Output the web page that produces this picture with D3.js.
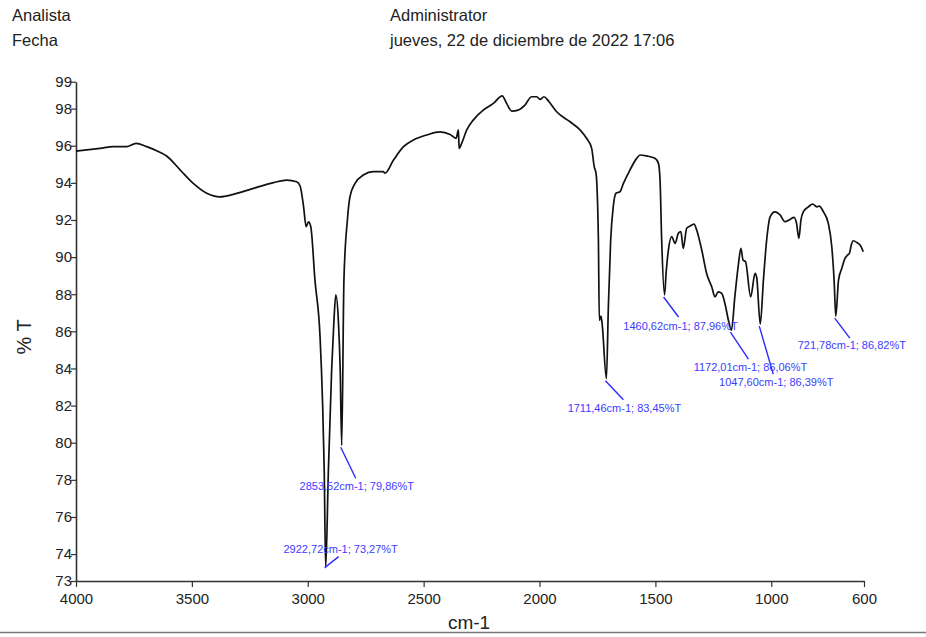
<!DOCTYPE html>
<html>
<head>
<meta charset="utf-8">
<script src="https://cdn.jsdelivr.net/npm/d3@7"></script>
<style>
  body { margin: 0; background: #fff; }
  svg { display: block; font-family: "Liberation Sans", Arial, sans-serif; }
</style>
</head>
<body>
<div id="chart"></div>
<script>
// header texts
var headerLabels = ["Analista", "Fecha"];
var headerValues = ["Administrator", "jueves, 22 de diciembre de 2022 17:06"];

// spectrum, wavenumber (cm-1) and transmittance (%T)
var wavenumbers = [4000, 3896, 3839, 3781, 3741, 3695, 3652, 3609, 3550, 3494, 3436, 3379, 3321, 3235, 3148, 3091, 3048, 3033, 3018, 3007, 2997, 2987, 2969, 2947, 2936, 2929, 2922.72, 2911, 2897, 2887, 2879, 2868, 2860, 2853.52, 2844, 2829, 2818, 2796, 2760, 2717, 2674, 2667, 2630, 2587, 2544, 2487, 2429, 2386, 2360, 2350, 2347, 2336, 2314, 2286, 2243, 2199, 2161, 2142, 2120, 2092, 2063, 2034, 2012, 1998, 1981, 1962, 1926, 1868, 1825, 1797, 1775, 1764, 1756, 1746, 1742, 1735, 1730, 1711.46, 1703, 1693, 1682, 1670, 1653, 1638, 1610, 1581, 1566, 1538, 1502, 1487, 1480, 1473, 1460.62, 1454, 1444, 1430, 1415, 1401, 1390, 1380, 1365, 1351, 1333, 1322, 1300, 1279, 1257, 1243, 1229, 1214, 1200, 1185, 1172.01, 1157, 1142, 1131, 1122, 1111, 1089, 1070, 1063, 1047.60, 1034, 1020, 1005, 984, 962, 941, 919, 902, 891, 881, 872, 862, 840, 821, 804, 793, 775, 754, 739, 729, 721.78, 710, 696, 682, 671, 663, 655, 646, 629, 617, 603];
var transmittance = [95.71, 95.86, 95.95, 95.95, 96.13, 95.95, 95.73, 95.45, 94.69, 93.97, 93.44, 93.25, 93.38, 93.70, 94.01, 94.15, 94.06, 93.83, 92.71, 91.64, 91.90, 91.64, 88.76, 85.71, 82.12, 78.53, 73.27, 78.50, 83.90, 86.60, 87.96, 86.60, 83.90, 79.86, 88.76, 92.00, 93.25, 93.97, 94.42, 94.60, 94.60, 94.52, 95.23, 95.95, 96.31, 96.58, 96.75, 96.61, 96.40, 96.85, 95.86, 96.13, 96.85, 97.38, 97.92, 98.28, 98.69, 98.28, 97.87, 97.92, 98.19, 98.64, 98.64, 98.50, 98.64, 98.42, 97.83, 97.29, 96.85, 96.40, 95.86, 94.87, 94.50, 90.92, 86.60, 86.82, 86.43, 83.45, 87.33, 90.92, 92.71, 93.44, 93.52, 93.97, 94.69, 95.32, 95.50, 95.45, 95.32, 95.05, 94.15, 90.92, 87.96, 89.12, 90.38, 91.10, 90.74, 91.28, 91.37, 90.47, 91.55, 91.67, 91.78, 91.46, 90.38, 89.12, 88.40, 87.86, 88.13, 88.04, 87.50, 86.60, 86.06, 87.90, 89.60, 90.47, 89.84, 89.75, 87.86, 89.12, 88.90, 86.39, 88.76, 90.92, 92.17, 92.44, 92.27, 91.91, 92.03, 92.14, 91.82, 91.01, 92.00, 92.44, 92.71, 92.86, 92.71, 92.75, 92.44, 91.82, 90.56, 88.76, 86.82, 88.76, 89.39, 89.93, 90.11, 90.20, 90.65, 90.88, 90.77, 90.65, 90.29];

// labelled peaks
var peakWavenumbers = [2922.72, 2853.52, 1711.46, 1460.62, 1172.01, 1047.60, 721.78];
var peakValues = [73.27, 79.86, 83.45, 87.96, 86.06, 86.39, 86.82];

// axis ticks
var xTickValues = [4000, 3500, 3000, 2500, 2000, 1500, 1000, 600];
var yDomain = [72.55, 99.45];
var yTickValues = [72.55, 74, 76, 78, 80, 82, 84, 86, 88, 90, 92, 94, 96, 98, 99.45];
var yTickLabels = ["73", "74", "76", "78", "80", "82", "84", "86", "88", "90", "92", "94", "96", "98", "99"];

// where each peak label sits relative to its peak (layout only)
var labelOffsets = [
    {dx: 13, dy: -11, tx: 15, ty: -15},
    {dx: 14, dy: 33, tx: 15, ty: 45},
    {dx: 17, dy: 21, tx: 18, ty: 33},
    {dx: 14, dy: 22, tx: 16, ty: 35},
    {dx: 17, dy: 29, tx: 19, ty: 41},
    {dx: 13, dy: 50, tx: 16, ty: 62},
    {dx: 14, dy: 22, tx: 16, ty: 33}
];

var fmt = function(v) { return v.toFixed(2).replace(".", ","); };

var W = 926, H = 637;
var plotLeft = 76, plotRight = 864, plotTop = 81.7, plotBottom = 581;

var svg = d3.select("#chart")
    .append("svg")
    .attr("width", W)
    .attr("height", H);

svg.append("rect").attr("width", W).attr("height", H).attr("fill", "#fff");

// header
svg.selectAll(".hlabel")
    .data(headerLabels)
    .enter().append("text")
    .attr("x", 12)
    .attr("y", function(d, i) { return 21 + i * 25; })
    .attr("fill", "#222")
    .style("font-size", "16.5px")
    .text(function(d) { return d; });

svg.selectAll(".hvalue")
    .data(headerValues)
    .enter().append("text")
    .attr("x", 390)
    .attr("y", function(d, i) { return 21 + i * 25; })
    .attr("fill", "#222")
    .style("font-size", "16.5px")
    .text(function(d) { return d; });

var x = d3.scaleLinear()
    .domain([4000, 600])
    .range([plotLeft, plotRight]);

var y = d3.scaleLinear()
    .domain(yDomain)
    .range([plotBottom, plotTop]);

var xAxis = svg.append("g")
    .attr("transform", "translate(0," + plotBottom + ")")
    .call(d3.axisBottom(x).tickValues(xTickValues).tickSize(6).tickSizeOuter(0).tickFormat(d3.format("d")));

var yAxis = svg.append("g")
    .attr("transform", "translate(" + plotLeft + ",0)")
    .call(d3.axisLeft(y).tickValues(yTickValues).tickSize(5).tickSizeOuter(0)
        .tickFormat(function(d, i) { return yTickLabels[i]; }));

svg.selectAll("g path.domain")
    .attr("stroke", "#333")
    .attr("stroke-width", 1.6);
svg.selectAll("g g.tick line")
    .attr("stroke", "#333")
    .attr("stroke-width", 1.2);
svg.selectAll("g g.tick text")
    .style("font-size", "15px")
    .style("font-family", "'Liberation Sans', Arial, sans-serif")
    .attr("fill", "#222");
xAxis.selectAll("g.tick text").attr("dy", "0.85em").attr("y", 10);
yAxis.selectAll("g.tick text").attr("x", -4);

// axis titles
svg.append("text")
    .attr("x", 469)
    .attr("y", 629)
    .attr("text-anchor", "middle")
    .attr("fill", "#222")
    .style("font-size", "19px")
    .text("cm-1");

svg.append("text")
    .attr("transform", "translate(31,337) rotate(-90)")
    .attr("text-anchor", "middle")
    .attr("fill", "#222")
    .style("font-size", "20px")
    .text("% T");

// bottom rule
svg.append("line")
    .attr("x1", 0).attr("x2", W)
    .attr("y1", 632.5).attr("y2", 632.5)
    .attr("stroke", "#777")
    .attr("stroke-width", 1.5);

// spectrum
var points = wavenumbers.map(function(w, i) { return [w, transmittance[i]]; });

var line = d3.line()
    .x(function(d) { return x(d[0]); })
    .y(function(d) { return y(d[1]); })
    .curve(d3.curveMonotoneX);

svg.append("path")
    .datum(points)
    .attr("d", line)
    .attr("fill", "none")
    .attr("stroke", "#111")
    .attr("stroke-width", 1.7)
    .attr("stroke-linejoin", "round");

// peak annotations
var peaks = peakWavenumbers.map(function(w, i) {
    return {w: w, v: peakValues[i], off: labelOffsets[i]};
});

svg.selectAll(".pline")
    .data(peaks)
    .enter().append("line")
    .attr("x1", function(d) { return x(d.w) - 1; })
    .attr("y1", function(d) { return y(d.v) + (d.off.dy > 0 ? 2 : 0); })
    .attr("x2", function(d) { return x(d.w) + d.off.dx; })
    .attr("y2", function(d) { return y(d.v) + d.off.dy; })
    .attr("stroke", "#2a2aff")
    .attr("stroke-width", 1.4);

svg.selectAll(".plabel")
    .data(peaks)
    .enter().append("text")
    .attr("x", function(d) { return x(d.w) + d.off.tx; })
    .attr("y", function(d) { return y(d.v) + d.off.ty; })
    .attr("text-anchor", "middle")
    .attr("fill", "#3c3cff")
    .style("font-size", "11px")
    .text(function(d) { return fmt(d.w) + "cm-1; " + fmt(d.v) + "%T"; });
</script>
</body>
</html>
